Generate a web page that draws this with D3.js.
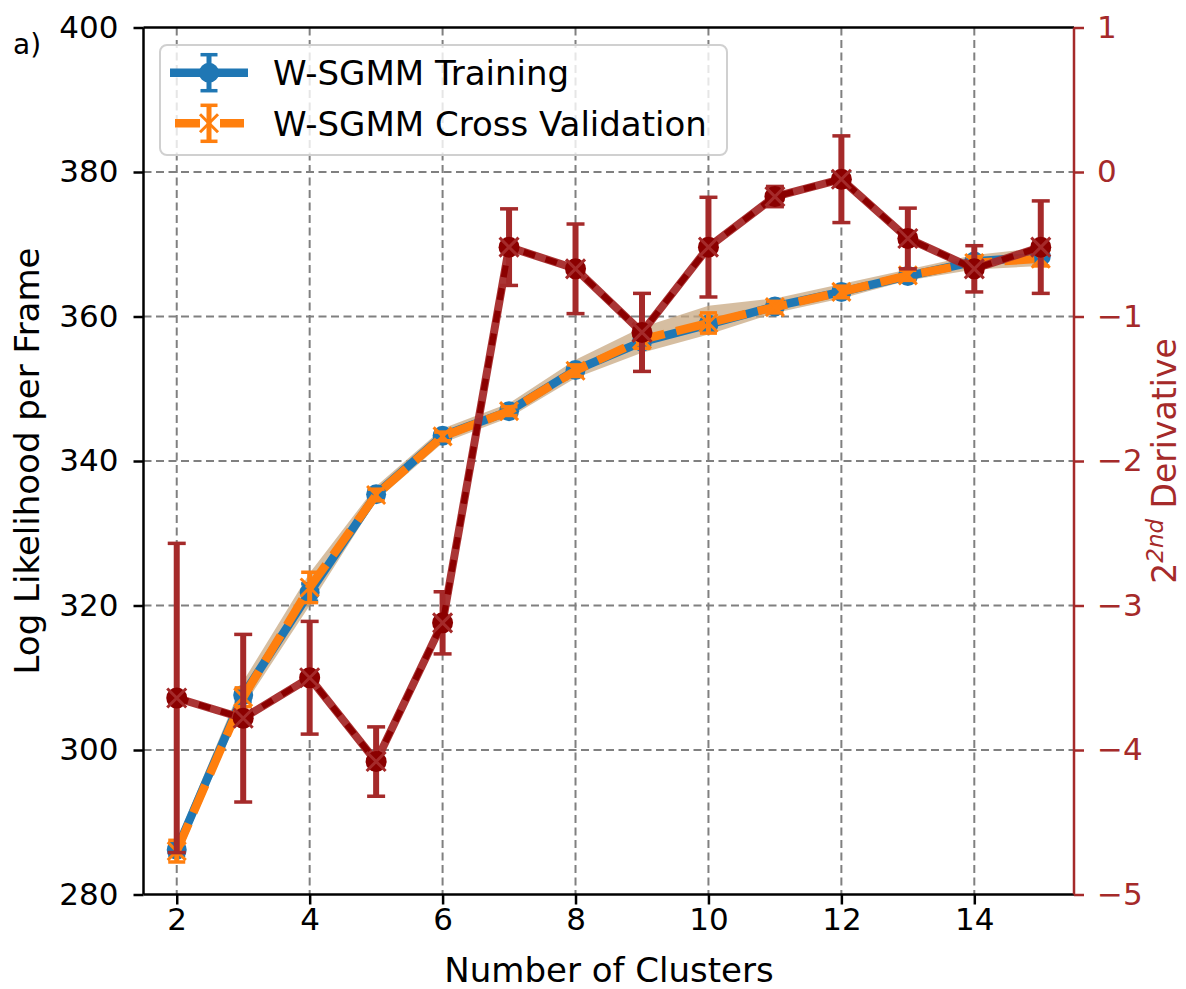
<!DOCTYPE html>
<html>
<head>
<meta charset="utf-8">
<script src="https://cdn.jsdelivr.net/npm/d3@7"></script>
<style>
  body { margin: 0; background: #fff; }
  text { font-family: "DejaVu Sans", sans-serif; }
</style>
</head>
<body>
<svg id="chart" width="1186" height="989"></svg>
<script>
// Data
const clusters = [2, 3, 4, 5, 6, 7, 8, 9, 10, 11, 12, 13, 14, 15];
const train    = [286.2, 307.6, 321.8, 335.4, 343.5, 346.9, 352.6, 356.5, 358.9, 361.4, 363.4, 365.6, 367.6, 368.3];
const trainErr = [0.8, 0.9, 1.2, 0.6, 0.5, 0.4, 0.5, 0.7, 0.6, 0.4, 0.5, 0.4, 0.4, 0.5];
const cv       = [286.0, 307.3, 322.5, 335.3, 343.4, 346.9, 352.5, 356.8, 359.1, 361.3, 363.4, 365.7, 367.4, 368.0];
const cvErr    = [1.5, 1.3, 2.1, 0.8, 0.6, 0.6, 0.8, 1.2, 1.4, 0.8, 0.8, 0.7, 0.9, 1.0];
const bandLo   = [285.0, 306.0, 320.0, 334.5, 342.5, 346.0, 351.5, 355.0, 357.5, 360.5, 362.5, 365.0, 366.5, 367.0];
const bandHi   = [287.5, 309.5, 324.5, 336.5, 344.5, 348.0, 354.0, 358.5, 361.5, 362.5, 364.5, 366.5, 368.5, 369.5];
const deriv    = [-3.64, -3.78, -3.50, -4.08, -3.12, -0.52, -0.67, -1.11, -0.52, -0.17, -0.05, -0.46, -0.67, -0.52];
const derivErr = [1.07, 0.58, 0.39, 0.24, 0.215, 0.265, 0.31, 0.27, 0.345, 0.07, 0.30, 0.21, 0.16, 0.32];

const xTicks = [2, 4, 6, 8, 10, 12, 14];
const yTicks = [280, 300, 320, 340, 360, 380, 400];
const y2Ticks = [-5, -4, -3, -2, -1, 0, 1];

const BLUE = "#1f77b4", ORANGE = "#ff7f0e", BROWN = "#a52a2a", DARKRED = "#8b0000";

const pL = 143.5, pR = 1074, pT = 27.5, pB = 894.5;
const svg = d3.select("#chart");

const x = d3.scaleLinear().domain([1.5, 15.5]).range([pL, pR]);
const y = d3.scaleLinear().domain([280, 400]).range([pB, pT]);
const y2 = d3.scaleLinear().domain([-5, 1]).range([pB, pT]);

// grid
const grid = svg.append("g")
  .attr("stroke", "#808080").attr("stroke-width", 2).attr("stroke-dasharray", "8,4.5");
grid.selectAll(".gx").data(xTicks).enter().append("line")
  .attr("x1", d => x(d)).attr("x2", d => x(d)).attr("y1", pT).attr("y2", pB);
grid.selectAll(".gy").data(yTicks.slice(1, -1)).enter().append("line")
  .attr("x1", pL).attr("x2", pR).attr("y1", d => y(d)).attr("y2", d => y(d));

const plot = svg.append("g");

// uncertainty band
plot.append("path")
  .datum(clusters.map((c, i) => [c, bandLo[i], bandHi[i]]))
  .attr("fill", "#c8a882").attr("fill-opacity", 0.75)
  .attr("d", d3.area().x(d => x(d[0])).y0(d => y(d[1])).y1(d => y(d[2])));

function errorBars(g, vals, errs, sx, sy, color, width, cap) {
  const eb = g.append("g").attr("stroke", color);
  clusters.forEach((c, i) => {
    const cx = sx(c), y0 = sy(vals[i] - errs[i]), y1 = sy(vals[i] + errs[i]);
    eb.append("line").attr("x1", cx).attr("x2", cx).attr("y1", y0).attr("y2", y1).attr("stroke-width", width);
    eb.append("line").attr("x1", cx - cap).attr("x2", cx + cap).attr("y1", y0).attr("y2", y0).attr("stroke-width", 3.5);
    eb.append("line").attr("x1", cx - cap).attr("x2", cx + cap).attr("y1", y1).attr("y2", y1).attr("stroke-width", 3.5);
  });
}
const xMark = s => `M${-s},${-s}L${s},${s}M${-s},${s}L${s},${-s}`;
const lineGen = sy => d3.line().x((d, i) => x(clusters[i])).y(d => sy(d));

// training
errorBars(plot, train, trainErr, x, y, BLUE, 5, 8.5);
plot.append("path").datum(train)
  .attr("fill", "none").attr("stroke", BLUE).attr("stroke-width", 8.5)
  .attr("d", lineGen(y));
plot.selectAll(".mb").data(train).enter().append("circle")
  .attr("cx", (d, i) => x(clusters[i])).attr("cy", d => y(d)).attr("r", 10).attr("fill", BLUE);

// cross validation
errorBars(plot, cv, cvErr, x, y, ORANGE, 5, 8.5);
plot.append("path").datum(cv)
  .attr("fill", "none").attr("stroke", ORANGE).attr("stroke-width", 8.5).attr("stroke-dasharray", "30,12")
  .attr("d", lineGen(y));
plot.selectAll(".mo").data(cv).enter().append("path")
  .attr("transform", (d, i) => `translate(${x(clusters[i])},${y(d)})`)
  .attr("d", xMark(9)).attr("stroke", ORANGE).attr("stroke-width", 3);

// second derivative (right axis)
errorBars(plot, deriv, derivErr, x, y2, BROWN, 6, 9);
plot.append("path").datum(deriv)
  .attr("fill", "none").attr("stroke", BROWN).attr("stroke-width", 8).attr("stroke-opacity", 0.95)
  .attr("d", lineGen(y2));
plot.append("path").datum(deriv)
  .attr("fill", "none").attr("stroke", DARKRED).attr("stroke-width", 6).attr("stroke-dasharray", "12,11")
  .attr("d", lineGen(y2));
plot.selectAll(".mr").data(deriv).enter().append("circle")
  .attr("cx", (d, i) => x(clusters[i])).attr("cy", d => y2(d)).attr("r", 10.5).attr("fill", DARKRED);
plot.selectAll(".mx").data(deriv).enter().append("path")
  .attr("transform", (d, i) => `translate(${x(clusters[i])},${y2(d)})`)
  .attr("d", xMark(9.5)).attr("stroke", BROWN).attr("stroke-width", 3);

// axes
const fs = "31px";
const xAxis = svg.append("g").attr("transform", `translate(0,${pB})`)
  .call(d3.axisBottom(x).tickValues(xTicks).tickSize(10).tickPadding(3).tickFormat(d3.format("d")));
const yAxis = svg.append("g").attr("transform", `translate(${pL},0)`)
  .call(d3.axisLeft(y).tickValues(yTicks).tickSize(10).tickPadding(15).tickFormat(d3.format("d")));
const y2Axis = svg.append("g").attr("transform", `translate(${pR},0)`)
  .call(d3.axisRight(y2).tickValues(y2Ticks).tickSize(10).tickPadding(13).tickFormat(d3.format("d")));
[xAxis, yAxis, y2Axis].forEach(a => {
  a.selectAll("text").attr("font-size", fs).attr("font-family", "DejaVu Sans");
  a.selectAll("line").attr("stroke-width", 2.5);
  a.select(".domain").remove();
});
xAxis.selectAll("text").attr("fill", "#000");
yAxis.selectAll("text").attr("fill", "#000");
y2Axis.selectAll("line").attr("stroke", BROWN);
y2Axis.selectAll("text").attr("fill", BROWN);

// spines
svg.append("line").attr("x1", pL).attr("x2", pR).attr("y1", pT).attr("y2", pT).attr("stroke", "#000").attr("stroke-width", 2.5);
svg.append("line").attr("x1", pL).attr("x2", pR).attr("y1", pB).attr("y2", pB).attr("stroke", "#000").attr("stroke-width", 2.5);
svg.append("line").attr("x1", pL).attr("x2", pL).attr("y1", pT).attr("y2", pB).attr("stroke", "#000").attr("stroke-width", 2.5);
svg.append("line").attr("x1", pR).attr("x2", pR).attr("y1", pT).attr("y2", pB).attr("stroke", BROWN).attr("stroke-width", 2.5);

// labels
svg.append("text").attr("x", 609).attr("y", 982).attr("text-anchor", "middle")
  .attr("font-size", "34px").text("Number of Clusters");
svg.append("text").attr("transform", `translate(38.5,461) rotate(-90)`).attr("text-anchor", "middle")
  .attr("font-size", "34px").text("Log Likelihood per Frame");
const rl = svg.append("text").attr("transform", `translate(1176,461) rotate(-90)`).attr("text-anchor", "middle")
  .attr("font-size", "33px").attr("fill", BROWN);
rl.append("tspan").text("2");
rl.append("tspan").attr("dy", -13).attr("font-size", "23px").attr("font-style", "italic").text("2nd");
rl.append("tspan").attr("dy", 13).text(" Derivative");
svg.append("text").attr("x", 13).attr("y", 54).attr("font-size", "28px").text("a)");

// legend
const lg = svg.append("g");
lg.append("rect").attr("x", 160).attr("y", 45).attr("width", 567).attr("height", 110).attr("rx", 7)
  .attr("fill", "#fff").attr("fill-opacity", 0.8).attr("stroke", "#d0d0d0").attr("stroke-width", 2);
const hx0 = 170, hx1 = 248, hc = 209;
const e1 = 72.7, e2 = 123.3;
function legendBar(cy, color) {
  lg.append("line").attr("x1", hc).attr("x2", hc).attr("y1", cy - 18).attr("y2", cy + 18).attr("stroke", color).attr("stroke-width", 5);
  lg.append("line").attr("x1", hc - 8.5).attr("x2", hc + 8.5).attr("y1", cy - 18).attr("y2", cy - 18).attr("stroke", color).attr("stroke-width", 3.5);
  lg.append("line").attr("x1", hc - 8.5).attr("x2", hc + 8.5).attr("y1", cy + 18).attr("y2", cy + 18).attr("stroke", color).attr("stroke-width", 3.5);
}
// training handle
lg.append("line").attr("x1", hx0).attr("x2", hx1).attr("y1", e1).attr("y2", e1).attr("stroke", BLUE).attr("stroke-width", 8.5);
legendBar(e1, BLUE);
lg.append("circle").attr("cx", hc).attr("cy", e1).attr("r", 10).attr("fill", BLUE);
lg.append("text").attr("x", 273).attr("y", e1 + 12.4).attr("font-size", "34px").text("W-SGMM Training");
// cv handle
lg.append("line").attr("x1", hx0 + 5).attr("x2", hx1 - 4).attr("y1", e2).attr("y2", e2).attr("stroke", ORANGE).attr("stroke-width", 8.5).attr("stroke-dasharray", "25,20");
legendBar(e2, ORANGE);
lg.append("path").attr("transform", `translate(${hc},${e2})`).attr("d", xMark(9)).attr("stroke", ORANGE).attr("stroke-width", 3);
lg.append("text").attr("x", 273).attr("y", e2 + 12.4).attr("font-size", "34px").text("W-SGMM Cross Validation");
</script>
</body>
</html>
